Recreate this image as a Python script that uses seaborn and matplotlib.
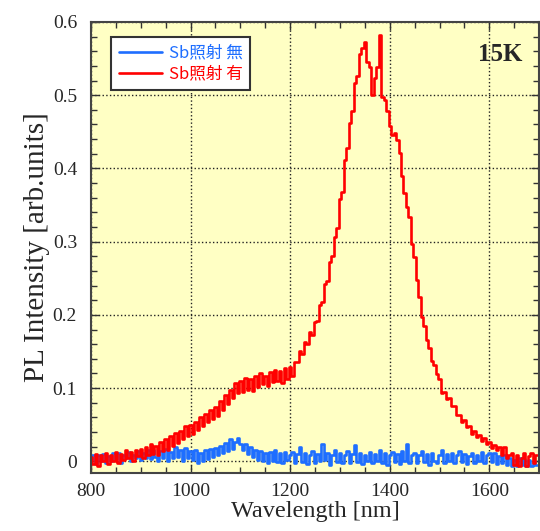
import numpy as np
import pandas as pd
import matplotlib
matplotlib.use('Agg')
import matplotlib.pyplot as plt
from matplotlib.ticker import MultipleLocator
import seaborn as sns

# wavelength grid (nm), 5 nm step
wavelength = np.arange(800, 1700, 5)

# Sb照射 有 (red)
red_vals = [
    0.006, -0.004, 0.010, -0.006, 0.008, 0.000, 0.012, -0.004, 0.009, 0.001,
    0.013, -0.002, 0.010, 0.002, 0.015, 0.004, 0.013, 0.000, 0.016, 0.007,
    0.017, 0.005, 0.020, 0.009, 0.023, 0.010, 0.021, 0.009, 0.026, 0.014,
    0.030, 0.016, 0.034, 0.021, 0.038, 0.025, 0.042, 0.030, 0.048, 0.035,
    0.049, 0.037, 0.054, 0.043, 0.060, 0.048, 0.064, 0.053, 0.070, 0.058,
    0.074, 0.062, 0.082, 0.070, 0.090, 0.078, 0.098, 0.086, 0.107, 0.093,
    0.109, 0.094, 0.114, 0.098, 0.113, 0.096, 0.117, 0.102, 0.120, 0.105,
    0.117, 0.103, 0.122, 0.108, 0.125, 0.110, 0.123, 0.107, 0.127, 0.113,
    0.129, 0.116, 0.136, 0.136, 0.151, 0.146, 0.163, 0.160, 0.177, 0.173,
    0.190, 0.192, 0.214, 0.218, 0.242, 0.246, 0.272, 0.281, 0.306, 0.318,
    0.358, 0.368, 0.412, 0.428, 0.462, 0.478, 0.516, 0.526, 0.556, 0.564,
    0.572, 0.546, 0.538, 0.500, 0.524, 0.538, 0.582, 0.498, 0.494, 0.478,
    0.458, 0.445, 0.449, 0.439, 0.421, 0.389, 0.367, 0.347, 0.333, 0.297,
    0.279, 0.247, 0.225, 0.197, 0.185, 0.165, 0.155, 0.137, 0.131, 0.119,
    0.113, 0.093, 0.095, 0.085, 0.087, 0.075, 0.075, 0.063, 0.063, 0.053,
    0.057, 0.047, 0.048, 0.037, 0.041, 0.033, 0.036, 0.028, 0.032, 0.023,
    0.027, 0.018, 0.022, 0.016, 0.019, 0.008, 0.019, 0.005, 0.008, 0.012,
    -0.005, 0.009, -0.007, 0.005, 0.011, -0.006, 0.007, 0.012, -0.002, 0.009,
]

# Sb照射 無 (blue)
blue_vals = [
    0.002, 0.009, -0.004, 0.008, 0.001, 0.010, -0.003, 0.007, 0.000, 0.011,
    0.003, 0.012, -0.002, 0.008, 0.004, 0.013, 0.000, 0.009, 0.005, 0.014,
    0.002, 0.012, 0.004, 0.015, 0.003, 0.016, 0.006, 0.001, 0.014, 0.005,
    0.017, 0.000, 0.013, 0.004, 0.019, 0.006, 0.016, 0.001, 0.018, 0.004,
    0.014, 0.002, 0.016, -0.002, 0.011, 0.001, 0.015, 0.003, 0.017, 0.006,
    0.018, 0.008, 0.021, 0.011, 0.025, 0.014, 0.030, 0.017, 0.027, 0.032,
    0.024, 0.015, 0.023, 0.010, 0.020, 0.006, 0.016, 0.002, 0.014, 0.000,
    0.012, -0.002, 0.013, 0.001, 0.015, -0.001, 0.011, -0.003, 0.013, 0.002,
    0.008, 0.013, -0.003, 0.010, 0.019, -0.001, 0.011, -0.004, 0.009, 0.014,
    -0.002, 0.010, 0.001, 0.024, 0.002, 0.012, -0.005, 0.009, 0.015, -0.001,
    0.011, -0.003, 0.008, 0.014, -0.002, 0.010, 0.022, -0.001, 0.012, -0.004,
    0.009, 0.000, 0.013, -0.003, 0.010, 0.001, 0.016, -0.002, 0.011, -0.005,
    0.008, 0.013, -0.001, 0.010, -0.004, 0.014, 0.000, 0.023, -0.002, 0.009,
    0.012, -0.003, 0.008, 0.014, -0.001, 0.010, -0.005, 0.012, 0.001, -0.002,
    0.009, 0.015, -0.003, 0.010, 0.000, 0.012, -0.002, 0.008, 0.014, -0.001,
    0.010, -0.004, 0.007, 0.012, -0.002, 0.009, 0.000, 0.013, -0.003, 0.008,
    0.011, -0.001, 0.012, -0.004, 0.007, -0.002, 0.009, -0.005, 0.005, -0.006,
    0.002, -0.007, 0.004, -0.005, 0.003, -0.006, 0.002, -0.007, 0.001, -0.005,
]

df = pd.DataFrame({'wl': wavelength, 'red': red_vals, 'blue': blue_vals})

sns.set_theme(style='ticks')
plt.rcParams['font.family'] = ['Liberation Serif', 'DejaVu Serif']

fig = plt.figure(figsize=(5.4, 5.31), dpi=100)
ax = fig.add_axes([0.1685, 0.1092, 0.83, 0.8494])
ax.set_facecolor('#FFFFC4')

sns.lineplot(data=df, x='wl', y='blue', ax=ax, color='#1E6EFF', lw=1.9,
             drawstyle='steps-mid', label='Sb照射 無')
sns.lineplot(data=df, x='wl', y='red', ax=ax, color='#FF0000', lw=1.9,
             drawstyle='steps-mid', label='Sb照射 有')

ax.set_xlim(800, 1700)
ax.set_ylim(-0.016, 0.6)
ax.xaxis.set_minor_locator(MultipleLocator(50))
ax.yaxis.set_minor_locator(MultipleLocator(0.02))
ax.set_yticks([0, 0.1, 0.2, 0.3, 0.4, 0.5, 0.6])
ax.set_yticklabels(['0', '0.1', '0.2', '0.3', '0.4', '0.5', '0.6'])
ax.set_xticks([800, 1000, 1200, 1400, 1600])
ax.tick_params(which='both', direction='in', top=True, right=True,
               labelsize=14, color='#333333', pad=7)
ax.tick_params(axis='y', which='major', pad=10)
ax.tick_params(which='major', length=6, width=1)
ax.tick_params(which='minor', length=4, width=1)
ax.grid(True, which='major', color='#222222', linestyle=':', linewidth=1)
for s in ax.spines.values():
    s.set_color('#444444')
    s.set_linewidth(1.5)

ax.set_xlabel('Wavelength [nm]', fontsize=17.5, labelpad=1)
ax.set_ylabel('PL Intensity [arb.units]', fontsize=21, labelpad=2)

ax.text(0.913, 0.929, '15K', transform=ax.transAxes, fontsize=18,
        fontweight='bold', ha='center', va='center')

leg = ax.legend(loc='upper left', bbox_to_anchor=(0.045, 0.967), borderaxespad=0,
                fancybox=False, framealpha=1, edgecolor='#333333',
                prop={'family': ['Noto Sans CJK JP', 'DejaVu Sans'], 'size': 12},
                handlelength=2.6, handletextpad=0.4, borderpad=0.45, labelspacing=0.25)
leg.get_frame().set_linewidth(1.5)
for txt, c in zip(leg.get_texts(), ['#1E6EFF', '#FF0000']):
    txt.set_color(c)

fig.savefig('out.png', dpi=100)
